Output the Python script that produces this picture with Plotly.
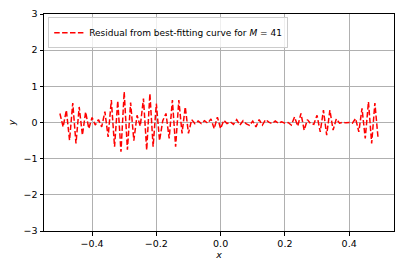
import numpy as np
import plotly.graph_objects as go

# sample positions x = -0.50, -0.49, ..., 0.49
x_start = -0.5
x_step = 0.01
residual = [
    0.25, -0.12, 0.34, -0.49, 0.54, -0.58, 0.43, -0.35, 0.29, -0.17,
    0.14, -0.07, 0.08, -0.12, 0.30, -0.40, 0.62, -0.67, 0.60, -0.81,
    0.85, -0.75, 0.55, -0.50, 0.20, -0.10, 0.66, -0.76, 0.80, -0.67,
    0.52, -0.50, 0.05, 0.25, -0.44, 0.62, -0.67, 0.62, -0.30, 0.43,
    -0.30, 0.08, -0.03, 0.04, -0.03, 0.05, -0.02, 0.10, -0.17, 0.15,
    -0.17, 0.06, -0.03, 0.02, -0.05, 0.08, -0.07, 0.05, -0.04, -0.08,
    0.04, -0.12, 0.08, -0.07, 0.08, 0.01, -0.03, 0.04, -0.02, 0.02,
    -0.02, 0.00, -0.07, 0.15, -0.10, 0.25, -0.21, 0.08, -0.03, -0.05,
    0.20, -0.26, 0.34, -0.35, 0.34, -0.21, 0.10, -0.02, 0.01, -0.01,
    0.00, -0.02, 0.11, -0.26, 0.39, -0.44, 0.57, -0.58, 0.54, -0.44,
]
xs = [round(x_start + x_step * i, 2) for i in range(len(residual))]

x_ticks = [-0.4, -0.2, 0.0, 0.2, 0.4]
y_ticks = [-3, -2, -1, 0, 1, 2, 3]
legend_label = "Residual from best-fitting curve for <i>M</i> = 41"

fig = go.Figure()
fig.add_trace(go.Scatter(
    x=xs, y=residual, mode="lines", name=legend_label,
    line=dict(color="red", width=1.5, dash="5.5px,2.4px"),
    showlegend=True,
))

font = dict(family="DejaVu Sans", size=9.5, color="black")
axis_common = dict(
    showline=True, linecolor="black", linewidth=1, mirror=True,
    ticks="outside", ticklen=3.5, tickwidth=1, tickcolor="black",
    showgrid=True, gridcolor="#b0b0b0", gridwidth=0.8,
    zeroline=False, tickfont=font, automargin=False,
)
fig.update_xaxes(
    range=[-0.5495, 0.5395], tickvals=x_ticks,
    ticktext=[f"{v:.1f}".replace("-", "\u2212") for v in x_ticks],
    title=dict(text="<i>x</i>", font=font, standoff=1),
    **axis_common,
)
fig.update_yaxes(
    range=[-3, 3], tickvals=y_ticks,
    ticktext=[str(v).replace("-", "\u2212") for v in y_ticks],
    title=dict(text="<i>y</i>", font=font, standoff=6),
    **axis_common,
)
fig.update_layout(
    width=407, height=271,
    margin=dict(l=44, r=13, t=14, b=40, autoexpand=False),
    plot_bgcolor="white", paper_bgcolor="white",
    font=font,
    legend=dict(
        x=0.012, y=0.985, xanchor="left", yanchor="top",
        bgcolor="rgba(255,255,255,0.8)", bordercolor="#cccccc", borderwidth=1,
        font=dict(family="DejaVu Sans", size=9, color="black"),
        itemwidth=30, tracegroupgap=0,
    ),
)
fig.write_html("out.html", config={"displayModeBar": False},
               post_script="document.body.style.margin='0';")
